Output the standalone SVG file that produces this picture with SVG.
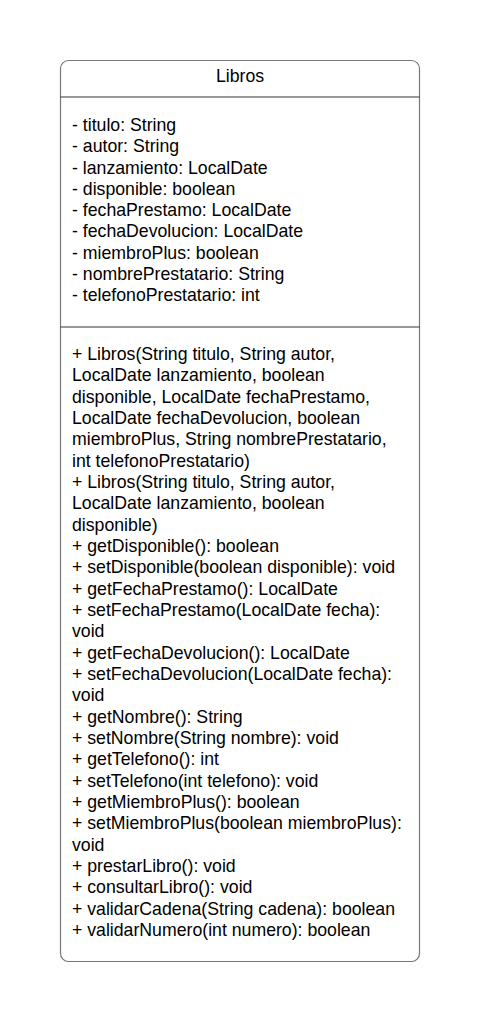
<svg xmlns="http://www.w3.org/2000/svg" width="482" height="1009" viewBox="0 0 482 1009">
<style>
.t{font-family:"Liberation Sans",Arial,sans-serif;font-size:17.7px;fill:#000}
.box{fill:#fff;stroke:#777;stroke-width:1.2}
.sep{stroke:#333;stroke-width:1}
</style>
<rect width="482" height="1009" fill="#fff"/>
<g id="Libros">
<rect class="box" x="60.5" y="60.5" width="359" height="901" rx="8" ry="8"/>
<line class="sep" x1="60.5" y1="97" x2="419.5" y2="97"/>
<line class="sep" x1="60.5" y1="327" x2="419.5" y2="327"/>
<text class="t" x="240" y="82" text-anchor="middle">Libros</text>
<text class="t" x="72">
<tspan x="72" y="131">- titulo: String</tspan>
<tspan x="72" y="152.25">- autor: String</tspan>
<tspan x="72" y="173.5">- lanzamiento: LocalDate</tspan>
<tspan x="72" y="194.75">- disponible: boolean</tspan>
<tspan x="72" y="216">- fechaPrestamo: LocalDate</tspan>
<tspan x="72" y="237.25">- fechaDevolucion: LocalDate</tspan>
<tspan x="72" y="258.5">- miembroPlus: boolean</tspan>
<tspan x="72" y="279.75">- nombrePrestatario: String</tspan>
<tspan x="72" y="301">- telefonoPrestatario: int</tspan>
</text>
<text class="t" x="72">
<tspan x="72" y="360">+ Libros(String titulo, String autor,</tspan>
<tspan x="72" y="381.33">LocalDate lanzamiento, boolean</tspan>
<tspan x="72" y="402.67">disponible, LocalDate fechaPrestamo,</tspan>
<tspan x="72" y="424">LocalDate fechaDevolucion, boolean</tspan>
<tspan x="72" y="445.33">miembroPlus, String nombrePrestatario,</tspan>
<tspan x="72" y="466.67">int telefonoPrestatario)</tspan>
<tspan x="72" y="488">+ Libros(String titulo, String autor,</tspan>
<tspan x="72" y="509.33">LocalDate lanzamiento, boolean</tspan>
<tspan x="72" y="530.67">disponible)</tspan>
<tspan x="72" y="552">+ getDisponible(): boolean</tspan>
<tspan x="72" y="573.33">+ setDisponible(boolean disponible): void</tspan>
<tspan x="72" y="594.67">+ getFechaPrestamo(): LocalDate</tspan>
<tspan x="72" y="616">+ setFechaPrestamo(LocalDate fecha):</tspan>
<tspan x="72" y="637.33">void</tspan>
<tspan x="72" y="658.67">+ getFechaDevolucion(): LocalDate</tspan>
<tspan x="72" y="680">+ setFechaDevolucion(LocalDate fecha):</tspan>
<tspan x="72" y="701.33">void</tspan>
<tspan x="72" y="722.67">+ getNombre(): String</tspan>
<tspan x="72" y="744">+ setNombre(String nombre): void</tspan>
<tspan x="72" y="765.33">+ getTelefono(): int</tspan>
<tspan x="72" y="786.67">+ setTelefono(int telefono): void</tspan>
<tspan x="72" y="808">+ getMiembroPlus(): boolean</tspan>
<tspan x="72" y="829.33">+ setMiembroPlus(boolean miembroPlus):</tspan>
<tspan x="72" y="850.67">void</tspan>
<tspan x="72" y="872">+ prestarLibro(): void</tspan>
<tspan x="72" y="893.33">+ consultarLibro(): void</tspan>
<tspan x="72" y="914.67">+ validarCadena(String cadena): boolean</tspan>
<tspan x="72" y="936">+ validarNumero(int numero): boolean</tspan>
</text>
</g>
</svg>
